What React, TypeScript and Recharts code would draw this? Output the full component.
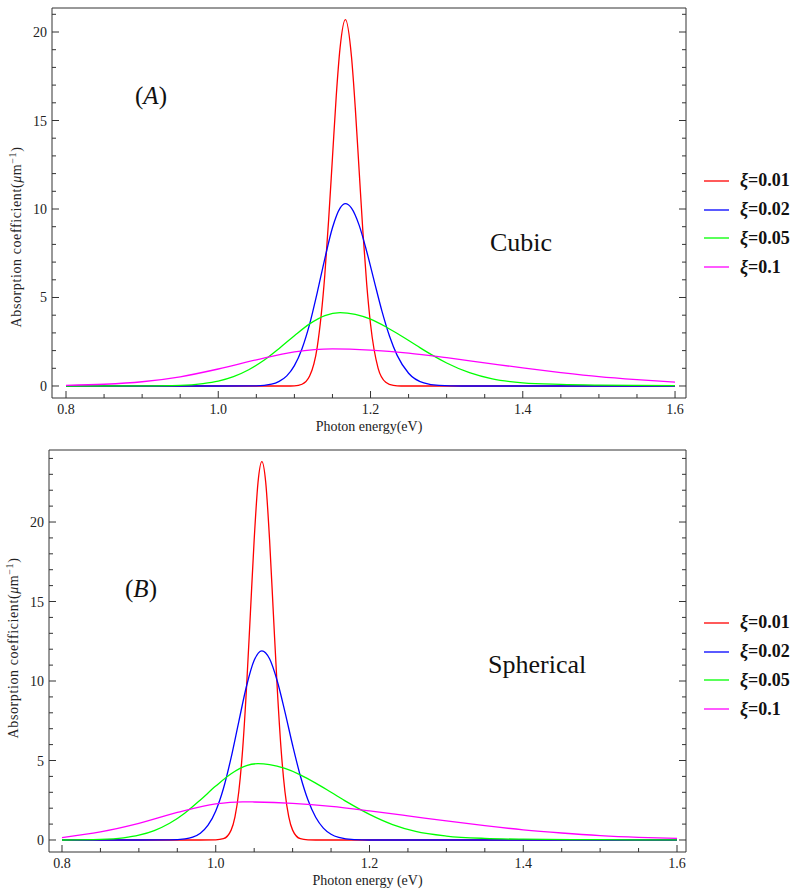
import React from "react";
import { LineChart, Line, XAxis, YAxis, Legend, Label } from "recharts";

const FONT = '"Liberation Serif", "Times New Roman", serif';
const AXIS = "#333";

// shared tick lists
const xTicks = [0.8, 0.85, 0.9, 0.95, 1.0, 1.05, 1.1, 1.15, 1.2, 1.25, 1.3, 1.35, 1.4, 1.45, 1.5, 1.55, 1.6];
const cubicYTicks = [0, 1, 2, 3, 4, 5, 6, 7, 8, 9, 10, 11, 12, 13, 14, 15, 16, 17, 18, 19, 20, 21];
const sphereYTicks = [0, 1, 2, 3, 4, 5, 6, 7, 8, 9, 10, 11, 12, 13, 14, 15, 16, 17, 18, 19, 20, 21, 22, 23, 24];

const seriesNames = ["ξ=0.01", "ξ=0.02", "ξ=0.05", "ξ=0.1"];
const seriesColors = ["#ff0000", "#0000ff", "#00ff00", "#ff00ff"];

// (A) cubic
const cubicX01 = [0.8, 1.0, 1.09, 1.1, 1.11, 1.12, 1.13, 1.14, 1.145, 1.15, 1.155, 1.16, 1.167, 1.175, 1.18, 1.185, 1.19, 1.195, 1.2, 1.21, 1.22, 1.23, 1.24, 1.4, 1.6];
const cubicY01 = [0, 0, 0, 0.01, 0.1, 0.56, 2.2, 6.3, 9.4, 12.9, 16.4, 19.1, 20.7, 18.6, 15.7, 12.2, 8.7, 5.75, 3.5, 1.0, 0.21, 0.03, 0, 0, 0];
const cubicX02 = [0.8, 1.0, 1.05, 1.07, 1.08, 1.09, 1.1, 1.11, 1.12, 1.13, 1.14, 1.15, 1.16, 1.167, 1.175, 1.185, 1.195, 1.205, 1.215, 1.225, 1.235, 1.25, 1.27, 1.29, 1.32, 1.4, 1.6];
const cubicY02 = [0, 0, 0.01, 0.1, 0.26, 0.57, 1.15, 2.11, 3.5, 5.28, 7.2, 8.94, 10.05, 10.3, 10.05, 9.09, 7.6, 5.9, 4.23, 2.81, 1.73, 0.72, 0.17, 0.03, 0, 0, 0];
const cubicX05 = [0.8, 0.9, 0.95, 0.98, 1.0, 1.02, 1.04, 1.06, 1.08, 1.1, 1.12, 1.14, 1.16, 1.18, 1.2, 1.22, 1.24, 1.26, 1.28, 1.3, 1.33, 1.36, 1.4, 1.45, 1.5, 1.55, 1.6];
const cubicY05 = [0, 0.01, 0.04, 0.14, 0.28, 0.53, 0.92, 1.45, 2.12, 2.84, 3.51, 3.98, 4.15, 4.05, 3.78, 3.35, 2.84, 2.3, 1.77, 1.3, 0.75, 0.4, 0.18, 0.09, 0.05, 0.03, 0.02];
const cubicX10 = [0.8, 0.85, 0.9, 0.95, 1.0, 1.05, 1.1, 1.15, 1.2, 1.25, 1.3, 1.35, 1.4, 1.45, 1.5, 1.55, 1.6];
const cubicY10 = [0.04, 0.1, 0.24, 0.52, 0.96, 1.48, 1.93, 2.1, 2.03, 1.86, 1.6, 1.31, 1.02, 0.76, 0.53, 0.36, 0.22];

// (B) spherical
const sphereX01 = [0.8, 0.98, 1.0, 1.01, 1.02, 1.025, 1.03, 1.035, 1.04, 1.045, 1.05, 1.055, 1.06, 1.065, 1.07, 1.075, 1.08, 1.085, 1.09, 1.095, 1.1, 1.11, 1.12, 1.13, 1.3, 1.6];
const sphereY01 = [0, 0, 0.01, 0.08, 0.62, 1.45, 3.05, 5.71, 9.55, 14.2, 18.9, 22.5, 23.8, 22.5, 18.9, 14.2, 9.55, 5.71, 3.05, 1.45, 0.62, 0.08, 0.01, 0, 0, 0];
const sphereX02 = [0.8, 0.9, 0.94, 0.96, 0.97, 0.98, 0.99, 1.0, 1.01, 1.02, 1.03, 1.04, 1.05, 1.06, 1.07, 1.08, 1.09, 1.1, 1.11, 1.12, 1.13, 1.14, 1.15, 1.16, 1.18, 1.2, 1.4, 1.6];
const sphereY02 = [0, 0, 0.01, 0.07, 0.18, 0.43, 0.93, 1.83, 3.24, 5.18, 7.45, 9.67, 11.3, 11.9, 11.4, 10.0, 8.06, 5.96, 4.04, 2.51, 1.43, 0.75, 0.36, 0.16, 0.02, 0, 0, 0];
const sphereX05 = [0.8, 0.85, 0.88, 0.9, 0.92, 0.94, 0.96, 0.98, 1.0, 1.02, 1.04, 1.055, 1.07, 1.09, 1.11, 1.13, 1.15, 1.17, 1.2, 1.23, 1.26, 1.3, 1.35, 1.4, 1.5, 1.6];
const sphereY05 = [0, 0.04, 0.14, 0.3, 0.59, 1.05, 1.7, 2.52, 3.39, 4.17, 4.68, 4.8, 4.74, 4.5, 4.1, 3.58, 3.0, 2.41, 1.61, 0.97, 0.54, 0.25, 0.1, 0.05, 0.02, 0.01];
const sphereX10 = [0.8, 0.85, 0.9, 0.95, 1.0, 1.035, 1.05, 1.1, 1.15, 1.2, 1.25, 1.3, 1.35, 1.4, 1.45, 1.5, 1.55, 1.6];
const sphereY10 = [0.15, 0.51, 1.05, 1.73, 2.27, 2.4, 2.39, 2.3, 2.11, 1.83, 1.52, 1.2, 0.9, 0.64, 0.44, 0.28, 0.17, 0.1];

const rows = (xs: number[], ys: number[]) => xs.map((x, i) => ({ x, y: ys[i] }));

const isMajor = (v: number, step: number) => Math.abs(v / step - Math.round(v / step)) < 1e-6;

function BottomTick(props: any) {
  const { x, y, payload } = props;
  const major = isMajor(payload.value, 0.2);
  return (
    <g>
      <line x1={x} x2={x} y1={y} y2={y - (major ? 7 : 4)} stroke={AXIS} />
      {major && (
        <text x={x} y={y + 16} textAnchor="middle" fontSize={14} fontFamily={FONT} fill="#222">
          {payload.value.toFixed(1)}
        </text>
      )}
    </g>
  );
}

function TopTick(props: any) {
  const { x, y, payload } = props;
  const major = isMajor(payload.value, 0.2);
  return <line x1={x} x2={x} y1={y} y2={y + (major ? 7 : 4)} stroke={AXIS} />;
}

function LeftTick(props: any) {
  const { x, y, payload } = props;
  const major = isMajor(payload.value, 5);
  return (
    <g>
      <line x1={x} x2={x + (major ? 7 : 4)} y1={y} y2={y} stroke={AXIS} />
      {major && (
        <text x={x - 5} y={y + 5} textAnchor="end" fontSize={14} fontFamily={FONT} fill="#222">
          {payload.value}
        </text>
      )}
    </g>
  );
}

function RightTick(props: any) {
  const { x, y, payload } = props;
  const major = isMajor(payload.value, 5);
  return <line x1={x} x2={x - (major ? 7 : 4)} y1={y} y2={y} stroke={AXIS} />;
}

function LegendBox({ payload }: any) {
  return (
    <div style={{ fontFamily: FONT }}>
      {(payload || []).map((e: any) => (
        <div key={e.value} style={{ display: "flex", alignItems: "center", height: 28.7 }}>
          <svg width={40} height={4} style={{ flex: "none" }}>
            <line x1={4} x2={29} y1={2} y2={2} stroke={e.color} strokeWidth={1.3} />
          </svg>
          <span style={{ fontWeight: "bold", fontSize: 18, color: "#111", whiteSpace: "nowrap" }}>
            <i>{String(e.value).slice(0, 1)}</i>
            {String(e.value).slice(1)}
          </span>
        </div>
      ))}
    </div>
  );
}

function yTitle(centerY: number) {
  return (props: any) => {
    const { viewBox } = props;
    const x = viewBox.x + viewBox.width - 31;
    return (
      <text
        x={x}
        y={centerY}
        transform={`rotate(-90 ${x} ${centerY})`}
        textAnchor="middle"
        fontSize={14}
        letterSpacing={0.6}
        fontFamily={FONT}
        fill="#222"
      >
        Absorption coefficient(<tspan fontStyle="italic">μ</tspan>m
        <tspan fontSize={10} dy={-5}>−1</tspan>
        <tspan dy={5}>)</tspan>
      </text>
    );
  };
}

function xTitle(text: string) {
  return (props: any) => {
    const { viewBox } = props;
    return (
      <text
        x={viewBox.x + viewBox.width / 2}
        y={viewBox.y + 33}
        textAnchor="middle"
        fontSize={14}
        fontFamily={FONT}
        fill="#222"
      >
        {text}
      </text>
    );
  };
}

type PanelProps = {
  height: number;
  margin: { top: number; right: number; bottom: number; left: number };
  xDomain: [number, number];
  yDomain: [number, number];
  yTicks: number[];
  series: { x: number; y: number }[][];
  xLabel: string;
  yTitleY: number;
  legendTop: number;
};

function Panel(p: PanelProps) {
  return (
    <LineChart width={795} height={p.height} margin={p.margin}>
      <XAxis
        type="number"
        dataKey="x"
        domain={p.xDomain}
        allowDataOverflow
        ticks={xTicks}
        interval={0}
        height={1}
        tickSize={0}
        tickMargin={0}
        tickLine={false}
        tick={BottomTick}
        axisLine={{ stroke: AXIS }}
      >
        <Label content={xTitle(p.xLabel)} />
      </XAxis>
      <XAxis
        xAxisId="top"
        orientation="top"
        type="number"
        domain={p.xDomain}
        allowDataOverflow
        ticks={xTicks}
        interval={0}
        height={1}
        tickSize={0}
        tickMargin={0}
        tickLine={false}
        tick={TopTick}
        axisLine={{ stroke: AXIS }}
      />
      <YAxis
        type="number"
        domain={p.yDomain}
        allowDataOverflow
        ticks={p.yTicks}
        interval={0}
        width={1}
        tickSize={0}
        tickMargin={0}
        tickLine={false}
        tick={LeftTick}
        axisLine={{ stroke: AXIS }}
      >
        <Label content={yTitle(p.yTitleY)} />
      </YAxis>
      <YAxis
        yAxisId="right"
        orientation="right"
        type="number"
        domain={p.yDomain}
        allowDataOverflow
        ticks={p.yTicks}
        interval={0}
        width={1}
        tickSize={0}
        tickMargin={0}
        tickLine={false}
        tick={RightTick}
        axisLine={{ stroke: AXIS }}
      />
      {p.series.map((d, i) => (
        <Line
          key={seriesNames[i]}
          data={d}
          dataKey="y"
          name={seriesNames[i]}
          type="monotone"
          stroke={seriesColors[i]}
          strokeWidth={1.3}
          dot={false}
          activeDot={false}
          isAnimationActive={false}
        />
      ))}
      <Legend
        layout="horizontal"
        verticalAlign="middle"
        content={LegendBox}
        wrapperStyle={{ left: 700, top: p.legendTop, width: 95 }}
      />
    </LineChart>
  );
}

const bigText: React.CSSProperties = {
  position: "absolute",
  fontFamily: FONT,
  color: "#111",
  lineHeight: 1,
  whiteSpace: "nowrap",
};

export default function App() {
  return (
    <div style={{ position: "absolute", left: 0, top: 0, width: 795, height: 890, background: "#fff" }}>
      <div style={{ position: "absolute", left: 0, top: 0 }}>
        <Panel
          height={440}
          margin={{ top: 7, right: 108, bottom: 41, left: 51 }}
          xDomain={[0.7816, 1.6144]}
          yDomain={[-0.678, 21.356]}
          yTicks={cubicYTicks}
          series={[rows(cubicX01, cubicY01), rows(cubicX02, cubicY02), rows(cubicX05, cubicY05), rows(cubicX10, cubicY10)]}
          xLabel="Photon energy(eV)"
          yTitleY={237}
          legendTop={166.6}
        />
        <div style={{ ...bigText, left: 151, top: 95, fontSize: 25, transform: "translate(-50%, -50%)" }}>
          (<i>A</i>)
        </div>
        <div style={{ ...bigText, left: 490, top: 243, fontSize: 26, transform: "translateY(-50%)" }}>Cubic</div>
      </div>
      <div style={{ position: "absolute", left: 0, top: 440 }}>
        <Panel
          height={450}
          margin={{ top: 9, right: 108, bottom: 37, left: 48 }}
          xDomain={[0.7831, 1.6117]}
          yDomain={[-0.755, 24.53]}
          yTicks={sphereYTicks}
          series={[rows(sphereX01, sphereY01), rows(sphereX02, sphereY02), rows(sphereX05, sphereY05), rows(sphereX10, sphereY10)]}
          xLabel="Photon energy (eV)"
          yTitleY={208}
          legendTop={168.6}
        />
        <div style={{ ...bigText, left: 141, top: 148, fontSize: 25, transform: "translate(-50%, -50%)" }}>
          (<i>B</i>)
        </div>
        <div style={{ ...bigText, left: 488, top: 225, fontSize: 26, transform: "translateY(-50%)" }}>Spherical</div>
      </div>
    </div>
  );
}
